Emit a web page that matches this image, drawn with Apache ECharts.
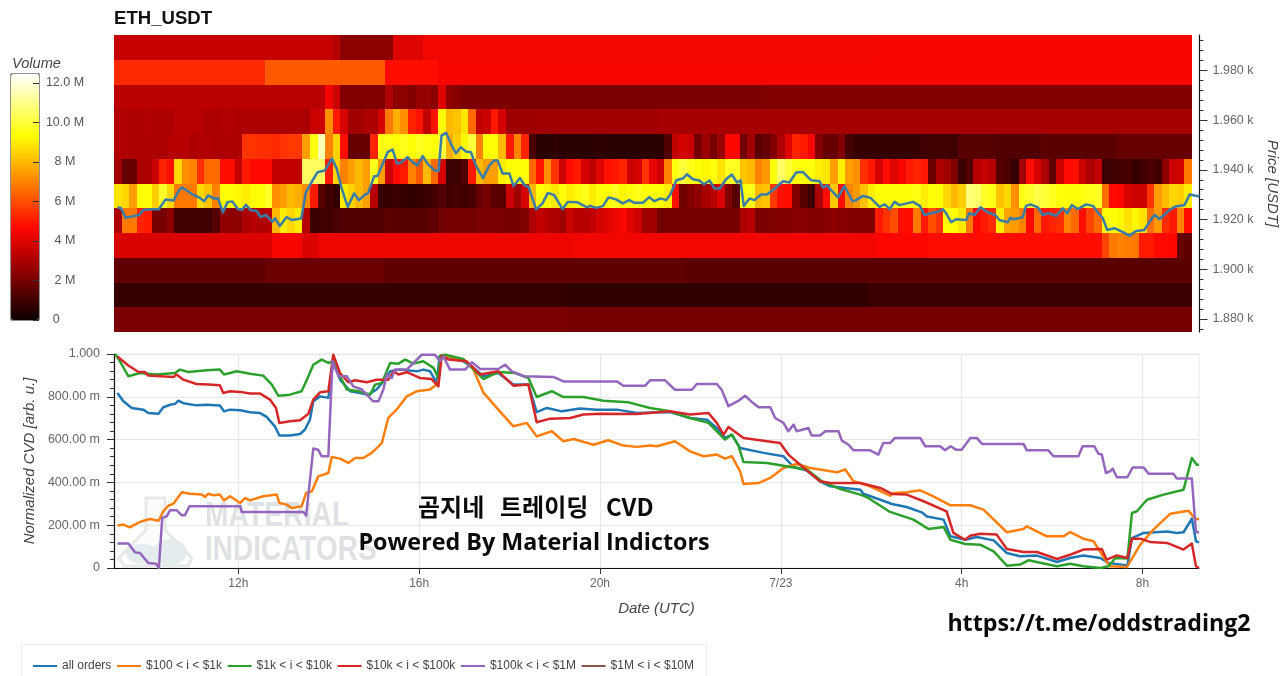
<!DOCTYPE html>
<html>
<head>
<meta charset="utf-8">
<title>ETH_USDT</title>
<script src="https://cdn.jsdelivr.net/npm/echarts@6/dist/echarts.min.js"></script>
<style>html,body{margin:0;padding:0;background:#fff}#chart{width:1280px;height:676px}</style>
</head>
<body>
<div id="chart"></div>
<script>
// Order-book volume per price band, in millions, one value per 10-minute column.
function hold(v, n) { return new Array(n).fill(v); }

const band1990 = [].concat(hold(3.5, 29), [3.2], hold(2.4, 7), hold(4.0, 4), hold(4.4, 60), hold(4.5, 42));
const band1980 = [].concat(hold(5.3, 20), hold(6.2, 16), hold(4.8, 7), hold(4.5, 100));
const band1970 = [].concat(hold(3.3, 28), [4.4, 3.6], hold(2.2, 6), [3.0, 2.4, 2.4, 2.2, 2.6, 2.6, 2.4, 4.0, 2.5, 2.3], hold(2.1, 40), hold(2.2, 57));
const band1960 = [3.1,3.1,3.0,3.0,3.1,3.0,3.0,3.0,3.3,3.3,3.3,3.2,3.0,3.0,3.1,3.1,3.0,3.0,3.0,3.0,3.0,3.0,3.0,3.0,3.0,3.0,3.6,3.6,
  7.2,5.0,3.8,2.8,2.8,3.0,3.0,3.8,
  6.8,7.8,7.2,5.2,4.9,3.4,4.9,9.3,8.0,8.2,8.8,6.5,3.4,3.6,5.0,3.8].concat(hold(2.7, 4), hold(2.8, 16), hold(2.9, 71));
const band1950 = [3.1,3.1,3.0,3.0,3.0,3.0,3.0,3.2,3.2,3.2,3.0,3.1,3.1,3.0,3.0,3.0,3.0,
  5.5,5.5,5.4,5.4,5.3,5.5,5.6,5.6,
  7.5,9.5,11.5,7,8.5,4.8,1.7,1.7,1.7,5.2,9.5,
  9.5,9.3,9.6,9.3,9.7,9.5,9.4,10,7.8,8.4,9.2,10,7,9.3,9.3,8,5,7,5.2,
  1.2,
  0.6,0.6,0.7,0.6,0.6,0.6,0.6,0.6,0.7,0.6,0.6,0.6,0.6,0.6,0.6,0.6,
  0.6,1.3,3.4,3.8,3.6,2,2.7,2,2.6,4.6,4.6,1.9,2.8,1.5,1.7,2.2,3,4,5.2,5,4.5,2.2,1.7,1.7,2.2,1.1,0.8,0.8,0.8,0.8,0.8,0.8,0.8,0.8,0.8
].concat(hold(1.0, 5), hold(1.4, 5), hold(1.3, 6), hold(1.5, 10), hold(1.7, 10));
const band1940 = [2.8,1.7,1.7,3,3,3.6,5.2,4.8,8.6,7.2,7,5.4,6.5,6.5,4.8,4.8,3.5,5,4.7,4.7,4.7,3.4,3.4,3.4,3.4,10.5,10.5,10.5,5,8.5,7,7.5,8,7.5,9.6,7.5,
  3.6,4.7,5,7,6.2,8,6.5,3.8,0.9,1,1.3,5,8,7.5,7.5,9,9.3,9.3,9.3,6.5,4.9,7.2,5.5,3.6,4.8,5,3.8,3.3,4,4.9,5,5.2,3.6,3.8,5.5,4.2,
  3.6,7,9.5,10,9.6,9.3,9.2,9.4,8.8,9.7,9.7,8.2,8,7,7.4,9.4,10.6,10,9.5,9.4,9.4,9,8.8,7.5,9,7.5,7.2,5.4,5,3.8,4.8,4,4.5,5,5.2,
  5,1.8,3,2.8,2.2,0.9,1.3,3.2,3.5,3.2,1.4,1.2,0.8,2.8,4.8,3.8,3,1.6,3.6,4.7,4.8,3.6,3,3.4,0.9,1,1,1.1,0.8,1,1.2,1,2.4,3.6,3.8,6.8];
const band1930 = [8.8,8.6,7.5,9.3,9.3,8.4,9.8,8.6,6.8,6.8,6.8,8.6,8.2,7,9.3,9.3,9.2,9,9.3,9.3,9.8,7.2,7.5,8,7.8,7.2,5,1.5,1,0.7,9,8.5,8,7.5,3.2,0.8,
  0.8,0.9,0.8,0.7,0.8,0.9,1.1,1.3,1,1.1,1,1.2,1.7,2,1.5,1.5,3.6,2.8,3.8,8,9.4,9.2,8.9,9.4,9,9.2,9.6,9,9.4,9.3,9.7,9.2,9.4,9.6,9.3,9.4,
  9.3,9,4.8,1.9,2.2,2.5,2.9,3.2,3.9,2.2,1.4,9.4,9.6,8,8.2,5.6,4.8,4.8,2.2,1.4,0.9,3,4.8,8.3,4.8,7,7.4,8.2,9,9.3,9.3,9.4,9.3,9.4,9.5,
  9,9.3,9.3,8.6,8,8.4,10.8,10.6,9.8,9.6,8.2,8.6,7.2,9.6,9.8,10.2,10,9.7,9.4,9.3,9.3,9.5,9.6,9.7,6.6,4.7,4.6,3.9,3.6,3.6,5.5,7.5,8,8.6,8.4,9];
const band1920 = [3,6.8,6.8,5.2,5,2,2,2.4,1,1,1,1,1,1.4,2.5,2.4,2.4,3,3.2,3,3.2,8,9,8.6,9,3.2,0.9,1,1,1.2,1.3,1.3,1.3,1.3,1.3,1.3,
  1.5,1.5,1.4,1.4,1.4,1.5,1.6,1.9,2,2,2,2,2.1,2.1,2.1,2,2,2,2.2,3,3.4,3.2,3,2.8,3.6,3.2,3.2,3.4,3.8,4,4.3,4.5,4,3.6,2.8,2.8,
  1.9,2,2,2,2,2,2,2,2,2,2,3,3.2,2.1,2.1,2.2,2.2,2.2,2.3,2.3,2.2,2.2,2.3,2.4,2.3,2.3,2.2,2.2,2.2,5,5.5,6,4.8,4.8,6.8,
  5,6,5.5,9.3,9.3,8.9,6.8,4.7,5,5.3,9,7.6,7.4,7,4.6,6.5,5,5.2,5.4,7,6.5,4.8,5.8,6.5,9.3,9.4,9.2,8.8,9.2,8.8,6.6,7.4,5.4,5,7,4.8];
const band1910 = [].concat(hold(3.9, 21), hold(4.5, 4), hold(3.9, 2), hold(4.3, 34), hold(4.4, 40), hold(4.6, 7), hold(4.8, 23),
  [5.8,6.8,7,6.9,6.8,5,5,4.7,4.7,4.6,1.7,1.6]);
const band1900 = [].concat(hold(1.6, 20), hold(1.8, 16), hold(1.6, 40), hold(1.5, 67));
const band1890 = [].concat(hold(0.8, 60), hold(0.7, 40), hold(0.9, 43));
const band1880 = [].concat(hold(2.1, 60), hold(2.0, 83));

const priceBands = ['1880','1890','1900','1910','1920','1930','1940','1950','1960','1970','1980','1990'];
const bandRows = [band1880, band1890, band1900, band1910, band1920, band1930, band1940, band1950, band1960, band1970, band1980, band1990];
const volumeColumns = band1880.map(function (_, i) { return String(i); });

// Last traded price [step, USDT]; a step is five minutes, step 0 is 09:15 UTC.
const priceLine = [[0.9,1924.7],[1.8,1924.7],[3.1,1920.7],[5.3,1921.4],[6.6,1921.8],[7.8,1923.8],[9.7,1924.1],[11.9,1924.1],[13.7,1928.1],[15.8,1927.7],[17.3,1931.8],[18.1,1932.9],[19.5,1931.5],[20.8,1930.1],[22.8,1928.7],[23.9,1927.4],[25,1929.7],[26.4,1928.5],[27.6,1928.6],[28.9,1922.9],[30.1,1927],[31.4,1927.3],[32.9,1924.1],[34,1923.9],[35,1925.9],[36.3,1923.7],[37.9,1923.4],[38.9,1921],[40.3,1921.8],[42,1919.1],[42.7,1920.5],[44,1917.4],[45.8,1921],[47.1,1919.8],[48.8,1920.2],[49.7,1920.5],[50.9,1930.9],[52.7,1935.8],[54,1939],[55.9,1939.7],[57.8,1944.5],[59.1,1940.5],[60.4,1932.5],[62,1925.1],[63.7,1930.5],[65,1927.8],[66.4,1929.8],[67.4,1930.5],[69,1937.4],[69.9,1937.5],[71.7,1943.8],
  [72.6,1947.1],[73.9,1948.2],[75.1,1942.5],[76.1,1942.9],[77.9,1945.1],[79.2,1943.1],[80.5,1941.8],[81.9,1945.5],[83.2,1942.5],[85,1939.8],[86.1,1939.5],[86.9,1953.8],[88.1,1954.9],[89.4,1950.5],[90.7,1946.7],[92,1949.1],[93.4,1947.4],[94.7,1947.1],[96,1941.8],[97.9,1936.7],[99.6,1941.8],[100.9,1943.8],[101.8,1943.8],[103.1,1938.5],[104.9,1938.5],[106,1933.4],[107.7,1936.7],[108.9,1933.8],[110,1933.1],[112,1924.1],[113.7,1926.5],[115.1,1930.7],[116.8,1929.8],[119,1924.2],[120.4,1927.1],[123,1926.9],[125.5,1924.9],[126.4,1925.5],[127.9,1924.7],[129.7,1925.4],[131.2,1928.9],[133.2,1928.1],[135,1926.5],[136.7,1927.8],[138.1,1926.7],[140.3,1926.7],[142,1929],[143.4,1927.4],
  [145,1928.5],[146.5,1927.8],[147.6,1930.1],[149.2,1935.8],[150.9,1936.5],[152,1938.2],[153.6,1936.2],[155.3,1935.7],[156.5,1934.2],[158,1935.7],[159.3,1932.5],[160.7,1932.5],[162.4,1936.2],[163.9,1938.1],[165.3,1934.9],[166.2,1935.8],[167.1,1925.4],[168.6,1928.5],[169.9,1927.8],[171.7,1930.1],[173.3,1930.1],[175.3,1932.5],[177.5,1935.4],[179.2,1934.9],[181,1938.9],[182.8,1939.1],[185,1935.8],[187.2,1935.4],[188.1,1932.9],[189.2,1933.8],[190.5,1931.4],[192.1,1928.9],[193.8,1933.5],[195.9,1927.4],[196.9,1927.8],[198.7,1929.5],[200.7,1928.7],[203.1,1925.1],[204.5,1926.1],[205.8,1924.2],[207.1,1927.1],[208.4,1925.8],[212,1927.1],[213.8,1925.5],[215,1921.8],
  [216.8,1922.5],[218.5,1923.1],[219.9,1924.1],[220.8,1922.5],[222.1,1918.9],[223.4,1920.1],[226.1,1919.8],[226.9,1922.5],[228.3,1921.8],[229.9,1924.9],[231.8,1922.9],[233.8,1921.8],[234.9,1919.8],[237.1,1918.9],[237.8,1920.7],[238.7,1920.1],[241.1,1920.9],[242,1925.5],[243.1,1926.1],[245.1,1924.9],[246.4,1921.8],[247.9,1922.5],[250,1921.5],[251.7,1924.5],[252.9,1922.5],[254.1,1925.8],[255.7,1924.2],[257.9,1926.1],[259.7,1925.5],[261.2,1922.5],[262.3,1920.7],[263.5,1915.8],[265.4,1916.5],[267.7,1914.9],[269.4,1913.5],[271.2,1915.4],[273.4,1915.8],[275.2,1920.2],[276.1,1921.8],[277.4,1920.2],[280,1923.8],[281.4,1925.1],[284,1925.8],[285.4,1930.1],[288,1929.3]];

// Normalized cumulative volume delta by order size [step, value].
const cvdAllOrders = [[0.9,0.818],[2.5,0.779],[4.7,0.748],[7.8,0.74],[9.1,0.724],[11.8,0.721],[13.1,0.751],[14.9,0.763],[16.2,0.767],[17.1,0.782],[18.4,0.77],[21.9,0.76],[24.6,0.763],[28.1,0.759],[29.2,0.732],[30.8,0.74],[33.5,0.737],[36.1,0.728],[38.8,0.724],[40.5,0.706],[42.7,0.662],[43.9,0.619],[46.7,0.619],[49.4,0.626],[50.7,0.647],[52,0.693],[52.9,0.779],[54.7,0.802],[56.9,0.795],[58.2,0.966],[60,0.88],[62.7,0.826],[65.3,0.818],[67.5,0.81],[69.7,0.834],[71.5,0.872],[73.3,0.919],[75.9,0.927],[80.4,0.919],[82.1,0.927],[83.9,0.919],[85.7,0.865],[86.4,0.989],[87.4,0.992],[92.7,0.966],[95.4,0.935],[98.1,0.896],[102,0.911],[106,0.857],[110,0.857],[112.2,0.728],[114.9,0.748],[118.9,0.732],[123.7,0.745],[128.1,0.74],[133.5,0.74],[138.8,0.724],[147.6,0.729],[152.9,0.701],[157.4,0.693],[160,0.654],[162.2,0.608],[164,0.623],[166.2,0.561],[172.4,0.538],[177.7,0.522],[180.4,0.472],[183.9,0.456],[187.4,0.405],[190.1,0.382],[198.1,0.366],[198.9,0.347],[203.4,0.319],[206.5,0.299],[210.4,0.285],[214.4,0.26],[215.8,0.241],[220.2,0.226],[222,0.148],[226,0.132],[229,0.145],[233.5,0.129],[237,0.07],[240.5,0.055],[245,0.058],[250.3,0.028],[253.8,0.047],[257.3,0.058],[261.8,0.047],[264,0.023],[269,0.012],[270.2,0.14],[273.3,0.164],[279.5,0.171],[282.1,0.164],[283.9,0.167],[286.1,0.231],[287.2,0.125],[288,0.12]];
const cvd100To1k = [[0.9,0.198],[2.5,0.203],[4.2,0.19],[6,0.207],[7.8,0.221],[9.6,0.229],[11.8,0.221],[13.1,0.265],[14.4,0.291],[15.8,0.301],[18,0.354],[20.2,0.347],[23.3,0.343],[24.2,0.332],[25,0.347],[26.4,0.34],[28.1,0.343],[29.2,0.316],[30.8,0.335],[33.5,0.304],[34.8,0.327],[36.1,0.316],[39.6,0.335],[43.2,0.343],[43.9,0.304],[45.8,0.296],[47.2,0.28],[49.8,0.288],[51,0.351],[52.5,0.358],[54.2,0.428],[56.9,0.444],[57.8,0.519],[60,0.511],[62.2,0.491],[64,0.514],[66.2,0.514],[68.4,0.538],[71.1,0.584],[72.8,0.701],[75,0.74],[77.7,0.802],[80.4,0.826],[83.9,0.834],[86.1,0.865],[86.6,0.974],[87.9,0.992],[92.7,0.974],[95,0.943],[98.1,0.818],[102,0.74],[106,0.662],[109.6,0.678],[112.2,0.615],[116.2,0.639],[119.3,0.592],[122,0.603],[127.3,0.576],[131.2,0.597],[135.2,0.572],[138.8,0.566],[142.3,0.572],[144.1,0.569],[148.9,0.592],[152.9,0.545],[156.5,0.522],[160,0.53],[162.2,0.511],[164,0.522],[166.2,0.452],[167.1,0.393],[171.1,0.397],[174.2,0.421],[177.7,0.467],[181.2,0.486],[184.8,0.467],[191.9,0.447],[194.1,0.46],[196.3,0.405],[198.1,0.397],[200.7,0.382],[206,0.338],[206.9,0.351],[210.4,0.354],[214,0.363],[217.5,0.335],[222,0.293],[227.3,0.293],[230.8,0.273],[237,0.167],[241.4,0.182],[242.3,0.195],[247.6,0.148],[252,0.148],[253.8,0.168],[257.3,0.137],[260,0.125],[263.1,0.039],[264.4,0.008],[268.9,0.005],[272.4,0.109],[275.9,0.179],[280.4,0.254],[285.2,0.268],[287,0.229],[288,0.229]];
const cvd1kTo10k = [[0.3,1],[1.6,0.966],[3.8,0.896],[6.9,0.911],[11.3,0.904],[16.2,0.911],[17.5,0.927],[19.7,0.916],[24.6,0.924],[28.1,0.927],[29.2,0.904],[32.6,0.919],[36.1,0.908],[39.6,0.899],[41.9,0.857],[43.6,0.805],[46.7,0.81],[49.8,0.826],[51.2,0.88],[52.9,0.95],[55.1,0.974],[56.9,0.958],[58.2,0.966],[60,0.896],[61.8,0.834],[64.9,0.826],[68,0.81],[69.3,0.857],[71.1,0.865],[73.3,0.958],[75.5,0.955],[77.3,0.974],[79.5,0.955],[82.1,0.966],[84.8,0.935],[86.1,0.888],[86.6,0.992],[87.9,0.997],[92.7,0.977],[95,0.935],[98.1,0.883],[102,0.916],[106.5,0.911],[110,0.888],[112.2,0.799],[116.2,0.826],[119.3,0.799],[124.6,0.799],[129.9,0.782],[136.6,0.774],[142.3,0.748],[147.6,0.732],[152.9,0.701],[157.8,0.678],[162.2,0.6],[164,0.623],[165.8,0.569],[167.1,0.495],[173.3,0.491],[177.7,0.478],[179.9,0.471],[183.9,0.46],[187.9,0.405],[192.8,0.369],[198.1,0.343],[199.8,0.332],[206,0.262],[212.2,0.226],[216.2,0.182],[220.2,0.192],[222,0.132],[226,0.112],[229.9,0.109],[233.5,0.078],[237,0.011],[240.5,0.016],[242.7,0.036],[250.3,0.008],[253.8,0.02],[257.3,0.008],[261.8,0],[264,0.008],[265.8,0.047],[269,0.044],[270.2,0.257],[271.5,0.265],[274.2,0.319],[278.6,0.343],[283.9,0.366],[286.1,0.514],[287.4,0.483],[288,0.483]];
const cvd10kTo100k = [[0.9,0.989],[3.8,0.946],[6.5,0.916],[8.2,0.916],[9.1,0.899],[12.2,0.896],[15.8,0.893],[16.6,0.904],[18.4,0.88],[21.9,0.86],[25,0.857],[28.1,0.854],[29,0.818],[30.8,0.826],[33.5,0.823],[36.1,0.815],[38.8,0.815],[41.4,0.787],[43,0.748],[43.9,0.678],[46.7,0.686],[49.4,0.69],[51.6,0.721],[52.9,0.787],[54.7,0.821],[56.9,0.826],[58.2,0.997],[60,0.911],[62.2,0.868],[64,0.877],[67.1,0.868],[69.7,0.88],[72.8,0.88],[74.2,0.919],[75.5,0.904],[77.7,0.915],[81.2,0.888],[84.3,0.883],[86.1,0.849],[87,0.992],[88.8,0.974],[93.6,0.966],[95.4,0.935],[97.2,0.904],[102,0.919],[106,0.852],[110,0.857],[112.2,0.681],[115.8,0.698],[121.1,0.701],[124.6,0.717],[129,0.721],[138.8,0.72],[147.6,0.732],[152.9,0.717],[157.8,0.724],[160,0.678],[161.8,0.623],[163.1,0.659],[167.1,0.608],[176.8,0.584],[179,0.53],[180.8,0.503],[183.9,0.456],[187.4,0.405],[190.1,0.397],[198.1,0.397],[203.4,0.374],[206.5,0.346],[210.4,0.343],[214.9,0.312],[221,0.265],[222.8,0.164],[225.9,0.132],[227.3,0.151],[229.9,0.16],[234.3,0.156],[237,0.089],[241.4,0.075],[245,0.075],[250.3,0.042],[253.8,0.062],[257.3,0.086],[262.2,0.089],[263.5,0.039],[266.2,0.059],[269,0.047],[270.2,0.137],[272.4,0.137],[275,0.122],[279.5,0.117],[283.9,0.086],[286.1,0.114],[287.2,0.008],[288,0]];
const cvd100kTo1M = [[0.9,0.114],[3.8,0.114],[5.6,0.073],[6.9,0.07],[9.1,0.023],[11.2,0.02],[11.9,0],[12.8,0.234],[14,0.241],[14.9,0.27],[16.6,0.27],[18,0.246],[18.8,0.246],[20,0.288],[33.5,0.288],[33.9,0.262],[50.3,0.262],[51,0.245],[52.9,0.558],[54.2,0.553],[55.1,0.522],[56.9,0.522],[58,0.966],[59.6,0.896],[61.8,0.896],[63.5,0.849],[65.8,0.834],[67.1,0.81],[68.8,0.779],[70.2,0.779],[71.5,0.834],[72.4,0.904],[73.7,0.888],[74.6,0.927],[77.7,0.927],[79.5,0.958],[81.7,0.997],[85.2,0.997],[86.5,0.966],[87.4,0.989],[89.2,0.927],[93.2,0.927],[95,0.961],[97.2,0.93],[102,0.93],[103.8,0.95],[105.6,0.919],[108.7,0.896],[116.6,0.893],[119.3,0.872],[133.5,0.872],[135.2,0.852],[141,0.852],[142.3,0.877],[146.3,0.877],[148.9,0.833],[153.4,0.833],[154.7,0.86],[160,0.86],[161.3,0.833],[163.1,0.756],[165.8,0.782],[167.5,0.805],[169.3,0.776],[171.1,0.751],[174.2,0.751],[175.5,0.701],[177.7,0.678],[179,0.639],[180.4,0.67],[181.2,0.639],[184.3,0.654],[185.2,0.619],[187.4,0.619],[188.8,0.639],[192.3,0.639],[193.2,0.595],[195,0.576],[196.3,0.55],[198.1,0.55],[200.7,0.55],[202.9,0.53],[204.2,0.584],[206,0.584],[207.3,0.608],[214,0.608],[215.3,0.569],[219.3,0.569],[220.6,0.55],[222.1,0.569],[223.5,0.553],[225,0.553],[227.3,0.608],[229,0.608],[230.4,0.58],[241.4,0.58],[242.3,0.55],[248,0.55],[249.4,0.522],[256,0.522],[257.1,0.569],[260.2,0.569],[261.3,0.534],[262.2,0.53],[263.3,0.444],[264.4,0.452],[265.1,0.464],[266.2,0.424],[269,0.424],[270.4,0.47],[273.3,0.47],[274.6,0.441],[281.2,0.441],[282.1,0.418],[286.1,0.418],[287.2,0.167],[288,0.167]];
const cvd1MTo10M = [];

const timeTickSteps = [33, 81, 129, 177, 225, 273];
const timeTickLabels = ['12h', '16h', '20h', '7/23', '4h', '8h'];
const priceTicks = [1880, 1900, 1920, 1940, 1960, 1980];
const priceMinorTicks = [1876, 1884, 1888, 1892, 1896, 1904, 1908, 1912, 1916, 1924, 1928, 1932, 1936, 1944, 1948, 1952, 1956, 1964, 1968, 1972, 1976, 1984, 1988, 1992];
const volumeTicks = [0, 2, 4, 6, 8, 10, 12];
const hotColors = ['#0b0000', '#5e0000', '#b20000', '#ff0700', '#ff5a00', '#ffad00', '#ffff05', '#ffff82', '#ffffff'];

const heatCells = [];
bandRows.forEach(function (row, y) {
  row.forEach(function (v, x) { heatCells.push([x, y, v]); });
});

const AXIS_FONT = 'Liberation Sans';
const TITLE_COLOR = '#444';
const OVERLAY_FONT = '"Noto Sans CJK KR", "Open Sans", sans-serif';
const TEXT_INK = '#0a0a0a';

function cvdSeries(name, color, data) {
  return {
    name: name, type: 'line', xAxisIndex: 3, yAxisIndex: 3, data: data,
    symbol: 'none', silent: true, animation: false,
    lineStyle: { color: color, width: 2.5, join: 'round' },
    itemStyle: { color: color }
  };
}

// Cells are snapped to whole pixels so neighbours leave no hairline gap.
function renderVolumeCell(params, api) {
  const centre = api.coord([api.value(0), api.value(1)]);
  const band = api.size([1, 1]);
  const x0 = Math.round(centre[0] - band[0] / 2);
  const x1 = Math.round(centre[0] + band[0] / 2);
  const y0 = Math.round(centre[1] - band[1] / 2);
  const y1 = Math.round(centre[1] + band[1] / 2);
  return {
    type: 'rect',
    shape: { x: x0, y: y0, width: x1 - x0, height: y1 - y0 },
    style: { fill: api.visual('color') }
  };
}

const chart = echarts.init(document.getElementById('chart'), null, { renderer: 'canvas' });

chart.setOption({
  animation: false,
  backgroundColor: '#fff',
  grid: [
    { left: 114, top: 35, width: 1078, height: 297, outerBoundsMode: 'none' },
    { left: 114, top: 35, width: 1085.5, height: 297, outerBoundsMode: 'none' },
    { left: 11, top: 74, width: 28, height: 246, outerBoundsMode: 'none', show: true, borderColor: '#222', borderWidth: 1, backgroundColor: 'transparent' },
    { left: 114, top: 354, width: 1085, height: 214, outerBoundsMode: 'none', show: true, borderColor: '#eaeaea', borderWidth: 1 }
  ],
  xAxis: [
    { type: 'category', gridIndex: 0, data: volumeColumns, show: false },
    { type: 'value', gridIndex: 1, min: 0, max: 288, show: false },
    { type: 'value', gridIndex: 2, min: 0, max: 1, show: false },
    {
      type: 'value', gridIndex: 3, min: 0, max: 288,
      name: 'Date (UTC)', nameLocation: 'middle', nameGap: 33,
      nameTextStyle: { fontFamily: AXIS_FONT, fontStyle: 'italic', fontSize: 15, color: TITLE_COLOR },
      axisLine: { onZero: false, lineStyle: { color: '#111', width: 1.2 } },
      axisTick: { show: true, length: 6, customValues: timeTickSteps, lineStyle: { color: '#333', width: 1 } },
      axisLabel: {
        customValues: timeTickSteps, margin: 10, fontFamily: AXIS_FONT, fontSize: 12, color: '#666',
        formatter: function (v) { return timeTickLabels[timeTickSteps.indexOf(v)] || ''; }
      },
      splitLine: { show: true, lineStyle: { color: '#e6e6e6', width: 1.2 } }
    }
  ],
  yAxis: [
    { type: 'category', gridIndex: 0, data: priceBands, show: false },
    {
      type: 'value', gridIndex: 1, position: 'right', min: 1874.7, max: 1994.3,
      name: 'Price [USDT]', nameLocation: 'middle', nameGap: 59, nameRotate: -90,
      nameTextStyle: { fontFamily: AXIS_FONT, fontStyle: 'italic', fontSize: 15, color: TITLE_COLOR },
      axisLine: { show: true, onZero: false, lineStyle: { color: '#111', width: 1.2 } },
      axisTick: { show: true, length: 8, customValues: priceTicks, lineStyle: { color: '#333' } },
      axisLabel: {
        customValues: priceTicks, margin: 13, fontFamily: AXIS_FONT, fontSize: 12.5, color: '#666',
        formatter: function (v) { return '1.' + String(v).slice(1) + ' k'; }
      },
      splitLine: { show: false }
    },
    {
      type: 'value', gridIndex: 2, position: 'right', min: 0, max: 12.45,
      z: 6,
      axisLine: { show: false, onZero: false },
      axisTick: { show: true, inside: true, length: 6, customValues: volumeTicks, lineStyle: { color: '#333' } },
      axisLabel: {
        customValues: volumeTicks, margin: 26, align: 'center', fontFamily: AXIS_FONT, fontSize: 12.5, color: '#555',
        formatter: function (v) { return v === 0 ? '0     ' : (v >= 10 ? v.toFixed(1) : v) + ' M'; }
      },
      splitLine: { show: false }
    },
    {
      type: 'value', gridIndex: 3, min: 0, max: 1, interval: 0.2,
      name: 'Normalized CVD [arb. u.]', nameLocation: 'middle', nameGap: 69,
      nameTextStyle: { fontFamily: AXIS_FONT, fontStyle: 'italic', fontSize: 15, color: TITLE_COLOR },
      axisLine: { show: true, onZero: false, lineStyle: { color: '#111', width: 1.2 } },
      axisTick: { show: true, length: 7, lineStyle: { color: '#333' } },
      minorTick: { show: true, splitNumber: 5, length: 4, lineStyle: { color: '#333' } },
      axisLabel: {
        margin: 14, fontFamily: AXIS_FONT, fontSize: 12.5, color: '#666',
        formatter: function (v) {
          if (v === 0) return '0';
          if (v === 1) return '1.000';
          return (v * 1000).toFixed(2) + ' m';
        }
      },
      splitLine: { show: true, lineStyle: { color: '#e6e6e6', width: 1.2 } }
    },
    {
      type: 'value', gridIndex: 1, position: 'right', min: 1874.7, max: 1994.3,
      axisLine: { show: false, onZero: false },
      axisTick: { show: true, length: 4, customValues: priceMinorTicks, lineStyle: { color: '#333' } },
      axisLabel: { show: false },
      splitLine: { show: false }
    }
  ],
  visualMap: {
    type: 'continuous', seriesIndex: 0, dimension: 2, min: 0, max: 12.45,
    left: 11, top: 74, padding: 0, itemWidth: 28, itemHeight: 246,
    calculable: false, showLabel: false, text: null, hoverLink: false, realtime: false,
    inRange: { color: hotColors }, z: 1
  },
  legend: {
    left: 28, top: 655, itemWidth: 24, itemHeight: 2, itemGap: 5.6, icon: 'rect',
    textStyle: { fontFamily: AXIS_FONT, fontSize: 12, color: '#444' },
    selectedMode: false,
    data: ['all orders', '$100 < i < $1k', '$1k < i < $10k', '$10k < i < $100k', '$100k < i < $1M', '$1M < i < $10M']
  },
  series: [
    {
      type: 'custom', xAxisIndex: 0, yAxisIndex: 0, data: heatCells, silent: true,
      encode: { x: 0, y: 1 }, renderItem: renderVolumeCell,
      progressive: 0, animation: false
    },
    {
      type: 'line', xAxisIndex: 1, yAxisIndex: 1, data: priceLine, symbol: 'none', silent: true,
      z: 5, lineStyle: { color: '#3a7ca8', width: 2.5, join: 'round' }
    },
    cvdSeries('all orders', '#1f77b4', cvdAllOrders),
    cvdSeries('$100 < i < $1k', '#ff7f0e', cvd100To1k),
    cvdSeries('$1k < i < $10k', '#2ca02c', cvd1kTo10k),
    cvdSeries('$10k < i < $100k', '#d62728', cvd10kTo100k),
    cvdSeries('$100k < i < $1M', '#9467bd', cvd100kTo1M),
    cvdSeries('$1M < i < $10M', '#8c564b', cvd1MTo10M)
  ],
  graphic: [
    // Panel heading and colour bar caption.
    { type: 'text', z: 20, style: { x: 114, y: 19, text: 'ETH_USDT', font: 'bold 18.6px "Liberation Sans"', fill: '#111', textVerticalAlign: 'middle' } },
    { type: 'text', z: 20, style: { x: 12, y: 64, text: 'Volume', font: 'italic 14.6px "Liberation Sans"', fill: TITLE_COLOR, textVerticalAlign: 'middle' } },
    // Legend frame.
    { type: 'rect', z: -1, shape: { x: 21.5, y: 644.5, width: 685, height: 40 }, style: { fill: '#fff', stroke: '#eeeeee', lineWidth: 1 } },
    // Watermark behind the CVD lines.
    { type: 'polygon', z: -1, shape: { points: [[146,498],[165,498],[165,530],[192,558],[188,566],[124,566],[119,558],[146,530]] }, style: { fill: '#fbfcfc', stroke: '#e6e8e9', lineWidth: 3 } },
    { type: 'ellipse', z: -1, shape: { cx: 143, cy: 554, rx: 17, ry: 10 }, style: { fill: '#e4ecee' } },
    { type: 'ellipse', z: -1, shape: { cx: 170, cy: 552, rx: 17, ry: 13 }, style: { fill: '#e4ecee' } },
    { type: 'text', z: -1, x: 205, y: 516, scaleX: 0.81, style: { x: 0, y: 0, text: 'MATERIAL', font: 'bold 35px "Liberation Sans"', fill: '#dfe2e5', textVerticalAlign: 'middle' } },
    { type: 'text', z: -1, x: 205, y: 550, scaleX: 0.8, style: { x: 0, y: 0, text: 'INDICATORS', font: 'bold 35px "Liberation Sans"', fill: '#dfe2e5', textVerticalAlign: 'middle' } },
    // Captions over the lower panel.
    { type: 'text', z: 30, style: { x: 418, y: 507, text: '곰지네', font: 'bold 24px ' + OVERLAY_FONT, fill: TEXT_INK, textVerticalAlign: 'middle' } },
    { type: 'text', z: 30, style: { x: 500, y: 507, text: '트레이딩', font: 'bold 24px ' + OVERLAY_FONT, fill: TEXT_INK, textVerticalAlign: 'middle' } },
    { type: 'text', z: 30, style: { x: 606, y: 507, text: 'CVD', font: 'bold 24px ' + OVERLAY_FONT, fill: TEXT_INK, textVerticalAlign: 'middle' } },
    { type: 'text', z: 30, style: { x: 534, y: 543, text: 'Powered By Material Indictors', font: 'bold 23.3px "Open Sans", sans-serif', fill: TEXT_INK, textAlign: 'center', textVerticalAlign: 'middle' } },
    { type: 'text', z: 30, style: { x: 1099, y: 624, text: 'https://t.me/oddstrading2', font: 'bold 23.2px "Open Sans", sans-serif', fill: TEXT_INK, textAlign: 'center', textVerticalAlign: 'middle' } }
  ]
});
</script>
</body>
</html>
